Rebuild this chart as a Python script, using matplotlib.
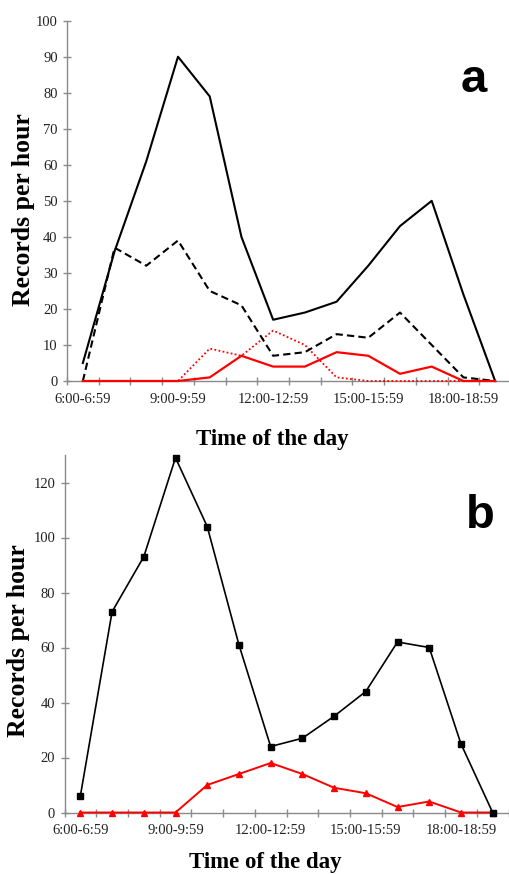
import matplotlib
matplotlib.use('Agg')
from matplotlib import pyplot as plt
import numpy as np

# hourly categories (6:00 to 19:59)
hours = ['%d:00-%d:59' % (h, h) for h in range(6, 20)]
shown = [0, 3, 6, 9, 12]

# panel a
a_solid = [5, 36, 61, 90, 79, 40, 17, 19, 22, 32, 43, 50, 24, 0]
a_dashed = [0, 37, 32, 39, 25, 21, 7, 8, 13, 12, 19, 10, 1, 0]
a_red = [0, 0, 0, 0, 1, 7, 4, 4, 8, 7, 2, 4, 0, 0]
a_red_dotted = [0, 0, 0, 0, 9, 7, 14, 10, 1, 0, 0, 0, 0, 0]

# panel b
b_black = [6, 73, 93, 129, 104, 61, 24, 27, 35, 44, 62, 60, 25, 0]
b_red = [0, 0, 0, 0, 10, 14, 18, 14, 9, 7, 2, 4, 0, 0]

W, H = 509, 874
serif = 'Liberation Serif'
grey = '#8a8a8a'

fig = plt.figure(figsize=(W / 100, H / 100), dpi=100)


def style_axis(ax, ymax, yticks):
    x = np.arange(len(hours))
    ax.set_xlim(-0.5, len(hours) - 0.5)
    ax.set_ylim(0, ymax)
    for s in ['top', 'right']:
        ax.spines[s].set_visible(False)
    for s in ['left', 'bottom']:
        ax.spines[s].set_color(grey)
        ax.spines[s].set_linewidth(1.0)
    ax.set_xticks([x[i] for i in shown])
    ax.set_xticklabels([hours[i] for i in shown], fontfamily=serif,
                       fontsize=10.5, color='#222222')
    ax.set_xticks(np.arange(-0.5, len(hours)), minor=True)
    ax.tick_params(axis='x', which='major', length=0, pad=8.5)
    ax.tick_params(axis='x', which='minor', direction='inout', length=5.5,
                   width=1.0, color=grey)
    ax.set_yticks(yticks)
    ax.set_yticklabels([str(v) for v in yticks], fontfamily=serif,
                       fontsize=10.5, color='#222222')
    ax.tick_params(axis='y', direction='inout', length=5.5, width=1.0,
                   color=grey, pad=4)
    return x


# ---- panel a ----
ax1 = fig.add_axes([67 / W, 1 - 381 / H, 444 / W, 360.3 / H])
x = style_axis(ax1, 100, list(range(0, 101, 10)))
ax1.plot(x, a_red_dotted, color='red', lw=1.3, ls=(0, (1, 1.3)),
         clip_on=False, zorder=3)
ax1.plot(x, a_dashed, color='black', lw=1.5, ls=(0, (3.5, 2)),
         clip_on=False, zorder=3)
ax1.plot(x, a_solid, color='black', lw=1.5, clip_on=False, zorder=4)
ax1.plot(x, a_red, color='red', lw=1.6, clip_on=False, zorder=4)

# ---- panel b ----
ax2 = fig.add_axes([64.5 / W, 1 - 812.5 / H, 444 / W, 357.5 / H])
x = style_axis(ax2, 130, list(range(0, 121, 20)))
ax2.plot(x, b_red, color='red', lw=1.4, marker='^', ms=4.5,
         clip_on=False, zorder=3)
ax2.plot(x, b_black, color='black', lw=1.2, marker='s', ms=4,
         clip_on=False, zorder=4)

# axis titles
lab = dict(fontfamily=serif, fontweight='bold', color='black')
fig.text(23.5 / W, 1 - 210 / H, 'Records per hour', rotation=90,
         ha='center', va='center', fontsize=18.5, **lab)
fig.text(19 / W, 1 - 640.5 / H, 'Records per hour', rotation=90,
         ha='center', va='center', fontsize=18.5, **lab)
fig.text(272 / W, 1 - 445 / H, 'Time of the day', ha='center',
         va='baseline', fontsize=16.5, **lab)
fig.text(265 / W, 1 - 868 / H, 'Time of the day', ha='center',
         va='baseline', fontsize=16.5, **lab)

# panel letters
letter = dict(fontfamily=['Liberation Sans Narrow', 'Liberation Sans'],
              fontweight='bold', fontsize=34, ha='center', va='baseline')
fig.text(474 / W, 1 - 92 / H, 'a', **letter)
fig.text(480.5 / W, 1 - 528 / H, 'b', **letter)

plt.savefig('out.png', dpi=100)
